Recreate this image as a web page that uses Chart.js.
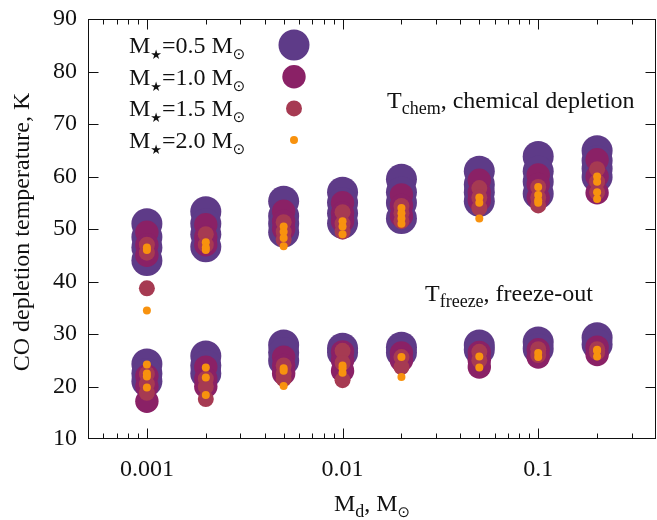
<!DOCTYPE html>
<html lang="en">
  <head>
    <title>CO depletion temperature</title>
    <meta charset="UTF-8" />
    <script src="https://cdn.jsdelivr.net/npm/chart.js@4.4.1/dist/chart.umd.min.js"></script>
    <style>
      html, body { margin: 0; padding: 0; overflow: hidden; background: #fff; }
      canvas { display: block; }
    </style>
  </head>

  <body>
    <canvas id="chart" width="657" height="520"></canvas>

    <script>
      // disk masses, Msun
      const diskMasses = [0.001, 0.002, 0.005, 0.01, 0.02, 0.05, 0.1, 0.2]
      const xTickValues = [0.001, 0.01, 0.1]
      const starMasses = ['0.5', '1.0', '1.5', '2.0']

      // T_chem (upper group), one list per disk mass
      const chem05 = [[51, 48.5, 46.5, 44], [53.3, 51, 49, 46.6], [55.3, 52.5, 51, 49.4], [57, 55, 53, 51.1],
                      [59.5, 57, 55, 52], [61, 58.5, 57, 55.3], [63.8, 61, 59, 56.7], [64.9, 63, 61.5, 59.9]]
      const chem10 = [[49.4, 47, 45], [50.8, 48.5, 47], [53.4, 51.5, 50], [55, 53, 51.5],
                      [56.5, 54.5, 52.5], [59.3, 57, 55.5], [60.3, 58.5, 56], [63.2, 60, 56.9]]
      const chem15 = [[47, 45.5, 38.7], [49, 47], [51.3, 49.5, 48], [53.2, 51, 49.5],
                      [54.4, 53, 51.5], [57.8, 56, 54], [58, 56, 54.5], [61.4, 59, 57]]
      const chem20 = [[46.5, 46, 34.5], [47.5, 46.5, 46], [50.5, 49.5, 48.3, 46.7], [51.5, 50.5, 49],
                      [54, 53, 52, 51], [56, 55, 52], [58, 56.5, 55.5, 55], [60, 59, 57, 55.7]]

      // T_freeze (lower group)
      const freeze05 = [[24.3, 22.5, 21], [25.8, 24, 22.5], [27.9, 26.5, 24.9], [27.3, 26.5],
                        [27.5, 26.5], [27.9, 27], [28.5, 27.2], [29.3, 28]]
      const freeze10 = [[22, 20, 17.2], [23.7, 21.5, 20], [25.6, 24, 22.5], [26.6, 25, 23],
                        [26.4, 25], [26.5, 25, 23.7], [27, 25.6], [27.5, 26.1]]
      const freeze15 = [[22.4, 20.5, 18.8], [21.5, 20, 17.6], [24, 22.5, 21.4], [26.8, 24.5, 21.2],
                        [25.6, 23.7], [26.6, 25], [27.1, 26], [27.1, 26.5]]
      const freeze20 = [[24.2, 22.5, 21.9, 19.8], [23.6, 21.7, 18.4], [23.5, 23, 20.1], [24, 23.5, 22.6],
                        [25.6, 21.8], [25.7, 23.6], [26.4, 25.6], [27, 26.8, 25.7]]

      const colors = ['#5e3b88', '#8a2166', '#a63a52', '#f8920e']
      const radii = [15.5, 11.7, 8, 4]

      const toPoints = (...groups) => {
        const pts = []
        groups.forEach((g) => {
          g.forEach((vals, i) => {
            vals.forEach((v) => pts.push({ x: diskMasses[i], y: v }))
          })
        })
        return pts
      }

      const series = [
        toPoints(chem05, freeze05),
        toPoints(chem10, freeze10),
        toPoints(chem15, freeze15),
        toPoints(chem20, freeze20),
      ]

      const serif = (s) => s + 'px "Liberation Serif"'
      const sym = (s) => s + 'px "DejaVu Sans"'

      const richText = (ctx, x, y, parts, align) => {
        let w = 0
        parts.forEach((p) => {
          ctx.font = p.font
          w += ctx.measureText(p.t).width
        })
        let cx = align === 'center' ? x - w / 2 : x
        parts.forEach((p) => {
          ctx.font = p.font
          ctx.fillText(p.t, cx, y + (p.dy || 0))
          cx += ctx.measureText(p.t).width
        })
      }

      const frame = {
        id: 'frame',
        afterDraw(chart) {
          const { ctx, chartArea: a } = chart
          const xs = chart.scales.x
          const ys = chart.scales.y
          ctx.save()
          ctx.strokeStyle = '#111'
          ctx.lineWidth = 1
          const L = Math.round(a.left) + 0.5
          const R = Math.round(a.right) - 0.5
          const T = Math.round(a.top) + 0.5
          const B = Math.round(a.bottom) - 0.5
          ctx.strokeRect(L, T, R - L, B - T)

          ctx.beginPath()
          for (let d = -4; d <= 0; d++) {
            for (let m = 1; m <= 9; m++) {
              const v = m * Math.pow(10, d)
              if (v <= xs.min || v >= xs.max) continue
              const px = Math.round(xs.getPixelForValue(v)) + 0.5
              const len = m === 1 ? 10 : 5
              ctx.moveTo(px, B)
              ctx.lineTo(px, B - len)
              ctx.moveTo(px, T)
              ctx.lineTo(px, T + len)
            }
          }
          for (let v = 20; v <= 80; v += 10) {
            const py = Math.round(ys.getPixelForValue(v)) + 0.5
            ctx.moveTo(L, py)
            ctx.lineTo(L + 10, py)
            ctx.moveTo(R, py)
            ctx.lineTo(R - 10, py)
          }
          ctx.stroke()

          // legend
          ctx.fillStyle = '#111'
          ctx.textAlign = 'left'
          ctx.textBaseline = 'alphabetic'
          starMasses.forEach((m, i) => {
            const cy = 45 + i * 31.7
            richText(ctx, 129, cy + 8, [
              { t: 'M', font: serif(24) },
              { t: '★', font: sym(13), dy: 6 },
              { t: '=' + m + ' M', font: serif(24) },
              { t: '⊙', font: sym(15), dy: 6 },
            ])
            ctx.beginPath()
            ctx.fillStyle = colors[i]
            ctx.arc(294, cy, radii[i], 0, Math.PI * 2)
            ctx.fill()
            ctx.fillStyle = '#111'
          })

          // group labels
          richText(ctx, 387, 108, [
            { t: 'T', font: serif(24) },
            { t: 'chem', font: serif(18), dy: 6 },
            { t: ', chemical depletion', font: serif(24) },
          ])
          richText(ctx, 425, 301, [
            { t: 'T', font: serif(24) },
            { t: 'freeze', font: serif(18), dy: 6 },
            { t: ', freeze-out', font: serif(24) },
          ])

          // axis titles
          richText(ctx, 372, 511, [
            { t: 'M', font: serif(24) },
            { t: 'd', font: serif(18), dy: 6 },
            { t: ', M', font: serif(24) },
            { t: '⊙', font: sym(15), dy: 6 },
          ], 'center')
          ctx.translate(29, 232)
          ctx.rotate(-Math.PI / 2)
          ctx.textAlign = 'center'
          ctx.font = serif(24)
          ctx.fillText('CO depletion temperature, K', 0, 0)
          ctx.restore()
        },
      }

      new Chart(document.getElementById('chart'), {
        type: 'scatter',
        data: {
          datasets: series.map((pts, i) => ({
            data: pts,
            backgroundColor: colors[i],
            borderWidth: 0,
            pointRadius: radii[i],
            pointHoverRadius: radii[i],
            order: 4 - i,
          })),
        },
        options: {
          responsive: false,
          animation: false,
          layout: {
            autoPadding: false,
            padding: { left: 0, right: 1, top: 19, bottom: 0 },
          },
          scales: {
            x: {
              type: 'logarithmic',
              min: 0.0005,
              max: 0.4,
              afterBuildTicks: (scale) => {
                scale.ticks = xTickValues.map((v) => ({ value: v }))
              },
              afterFit: (scale) => {
                scale.height = 81
                scale.paddingLeft = 0
                scale.paddingRight = 0
              },
              grid: { display: false, drawTicks: false },
              border: { display: false },
              ticks: {
                padding: 16,
                color: '#111',
                font: { family: 'Liberation Serif', size: 24 },
                callback: (v) => String(v),
              },
            },
            y: {
              min: 10,
              max: 90,
              afterFit: (scale) => {
                scale.width = 88
                scale.paddingTop = 0
                scale.paddingBottom = 0
              },
              grid: { display: false, drawTicks: false },
              border: { display: false },
              ticks: {
                stepSize: 10,
                padding: 11,
                color: '#111',
                font: { family: 'Liberation Serif', size: 24 },
              },
            },
          },
          plugins: {
            legend: { display: false },
            tooltip: { enabled: false },
          },
        },
        plugins: [frame],
      })
    </script>
  </body>
</html>
